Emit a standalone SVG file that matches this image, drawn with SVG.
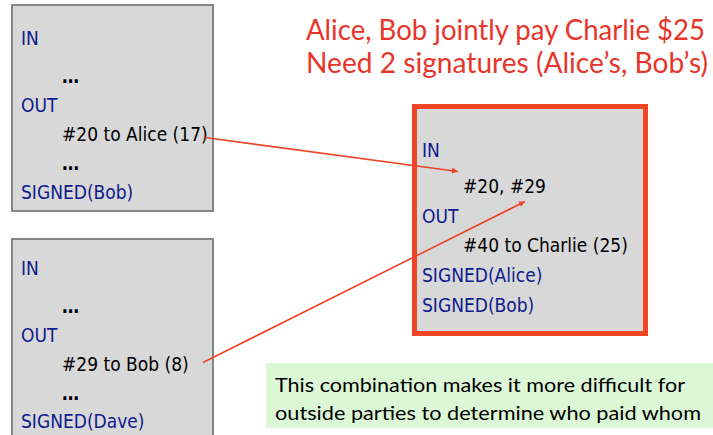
<svg xmlns="http://www.w3.org/2000/svg" width="713" height="435" viewBox="0 0 713 435">
<style>
.box{fill:#d8d8d8;stroke:#858585;stroke-width:2}
.box3{fill:#d8d8d8;stroke:#ee4527;stroke-width:5}
.t{font-family:"DejaVu Sans Condensed","DejaVu Sans",sans-serif;font-size:19px}
.kw{fill:#0f1a8e}
.v{fill:#000}
.el{font-weight:bold}
.title{font-family:Lato,"Open Sans",sans-serif;font-size:28px;fill:#e8352a}
.note{font-family:Lato,"Open Sans",sans-serif;font-size:19px;fill:#000}
.conn{stroke:#ee4527;stroke-width:1.6;fill:none;marker-end:url(#ah)}
</style>
<defs>
<marker id="ah" viewBox="0 0 10 10" refX="10" refY="5" markerWidth="6" markerHeight="6" orient="auto" markerUnits="userSpaceOnUse">
<path d="M0,0 L10,5 L0,10 z" fill="#ee4527"/>
</marker>
</defs>
<rect width="713" height="435" fill="#fff"/>
<g id="title">
<text class="title" x="306" y="40" textLength="399" lengthAdjust="spacingAndGlyphs">Alice, Bob jointly pay Charlie $25</text>
<text class="title" x="306" y="73" textLength="402" lengthAdjust="spacingAndGlyphs">Need 2 signatures (Alice’s, Bob’s)</text>
</g>
<g id="tx1">
<rect class="box" x="12" y="5" width="201" height="206"/>
<text class="t kw" x="21" y="45">IN</text>
<text class="t v el" x="62" y="82.5">…</text>
<text class="t kw" x="21" y="111.5">OUT</text>
<text class="t v" x="62" y="141">#20 to Alice (17)</text>
<text class="t v el" x="62" y="170">…</text>
<text class="t kw" x="21" y="198.5">SIGNED(Bob)</text>
</g>
<g id="tx2">
<rect class="box" x="12" y="239" width="201" height="210"/>
<text class="t kw" x="21" y="275">IN</text>
<text class="t v el" x="62" y="312.5">…</text>
<text class="t kw" x="21" y="341.5">OUT</text>
<text class="t v" x="62" y="370.5">#29 to Bob (8)</text>
<text class="t v el" x="62" y="400">…</text>
<text class="t kw" x="21" y="428">SIGNED(Dave)</text>
</g>
<g id="tx3">
<rect class="box3" x="414.5" y="106.5" width="231" height="227"/>
<text class="t kw" x="422" y="156.5">IN</text>
<text class="t v" x="463" y="193.3">#20, #29</text>
<text class="t kw" x="422" y="223">OUT</text>
<text class="t v" x="463" y="252.3">#40 to Charlie (25)</text>
<text class="t kw" x="422" y="282.3">SIGNED(Alice)</text>
<text class="t kw" x="422" y="311.7">SIGNED(Bob)</text>
</g>
<g id="note">
<rect x="266" y="363" width="447" height="65" fill="#dcf7d6"/>
<text class="note" x="275" y="391.7" textLength="410" lengthAdjust="spacingAndGlyphs">This combination makes it more difficult for</text>
<text class="note" x="275" y="420" textLength="426" lengthAdjust="spacingAndGlyphs">outside parties to determine who paid whom</text>
</g>
<g id="connectors">
<line class="conn" x1="205" y1="137.5" x2="458" y2="171.5"/>
<line class="conn" x1="203" y1="362.5" x2="525" y2="201.5"/>
</g>
</svg>
